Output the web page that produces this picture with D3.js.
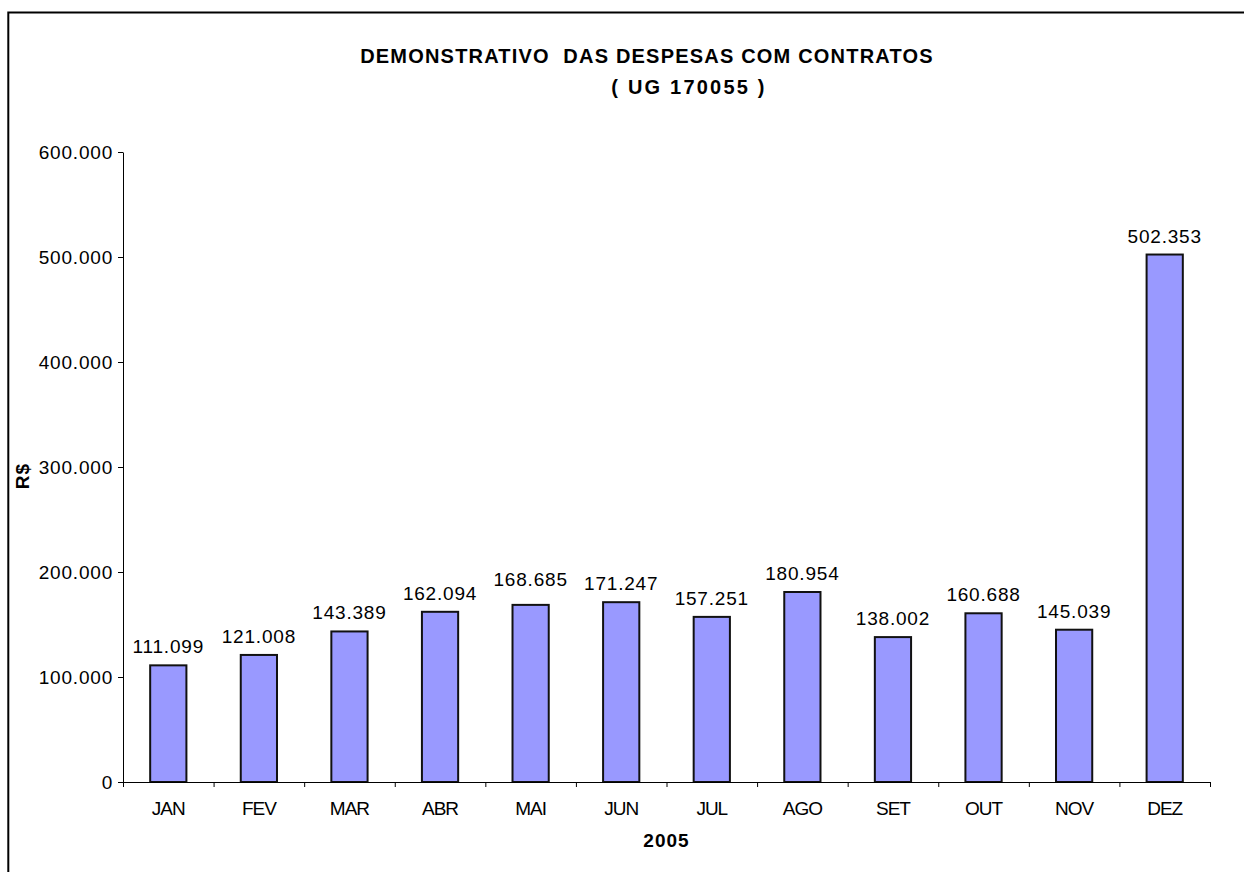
<!DOCTYPE html>
<html lang="pt">
  <head>
    <meta charset="utf-8">
    <title>Demonstrativo das Despesas com Contratos</title>
    <script src="https://cdnjs.cloudflare.com/ajax/libs/d3/7.8.5/d3.min.js"></script>
    <style type="text/css">
      body {
        margin: 0;
        background: #fff;
      }
      .chart text {
        font-family: 'Liberation Sans', Arial, sans-serif;
        fill: #000;
      }
      .tick text, .value {
        font-size: 19px;
        letter-spacing: 0.8px;
      }
      .x.axis .tick text {
        letter-spacing: -1px;
      }
      .title {
        font-size: 20px;
        font-weight: bold;
        letter-spacing: 1.2px;
        white-space: pre;
      }
      .subtitle {
        font-size: 20px;
        font-weight: bold;
        letter-spacing: 2.2px;
        white-space: pre;
      }
      .label {
        font-size: 19px;
        font-weight: bold;
        letter-spacing: 1px;
      }
      .bar {
        fill: #9999ff;
        stroke: #111;
        stroke-width: 2px;
      }
    </style>
  </head>
  <body>
    <svg class="chart" id="chart"></svg>
    <script type="text/javascript">
// chart data
var months = ["JAN", "FEV", "MAR", "ABR", "MAI", "JUN", "JUL", "AGO", "SET", "OUT", "NOV", "DEZ"];
var values = [111099, 121008, 143389, 162094, 168685, 171247, 157251, 180954, 138002, 160688, 145039, 502353];
var yTicks = [0, 100000, 200000, 300000, 400000, 500000, 600000];
var titleText = "DEMONSTRATIVO  DAS DESPESAS COM CONTRATOS";
var subtitleText = "( UG 170055 )";
var xTitle = "2005";
var yTitle = "R$";

var w = 1244;
var h = 872;
// plot area (window.top is taken, so no plain "top")
var plotLeft = 123, plotRight = 1210, plotTop = 152, plotBottom = 782;

var dataset = months.map(function(m, i) { return { month: m, value: values[i] }; });

// brazilian number format, 100.000
var fmt = d3.formatLocale({ decimal: ",", thousands: ".", grouping: [3], currency: ["R$", ""] }).format(",.0f");

var xScale = d3.scaleBand().domain(months).range([plotLeft, plotRight]).paddingInner(0.6).paddingOuter(0.3);
// boundaries between categories, for the tick marks
var xEdges = d3.scaleLinear().domain([0, months.length]).range([plotLeft, plotRight]);
var yScale = d3.scaleLinear().domain([0, d3.max(yTicks)]).range([plotBottom, plotTop]);

var svg = d3.select("#chart")
  .attr("width", w)
  .attr("height", h);

// frame round the chart (runs off the right and bottom edges)
svg.append("rect")
  .attr("x", 8.3)
  .attr("y", 12.5)
  .attr("width", 1300)
  .attr("height", 900)
  .attr("fill", "none")
  .attr("stroke", "#000")
  .attr("stroke-width", 2);

// bars
svg.selectAll(".bar")
  .data(dataset)
  .enter().append("rect")
  .attr("class", "bar")
  .attr("x", function(d) { return xScale(d.month); })
  .attr("y", function(d) { return yScale(d.value); })
  .attr("width", xScale.bandwidth())
  .attr("height", function(d) { return plotBottom - yScale(d.value); });

// value labels, MAI sits a little higher in the original
var lift = { MAI: 7 };
svg.selectAll(".value")
  .data(dataset)
  .enter().append("text")
  .attr("class", "value")
  .attr("text-anchor", "middle")
  .attr("x", function(d) { return xScale(d.month) + xScale.bandwidth() / 2; })
  .attr("y", function(d) { return yScale(d.value) - 12 - (lift[d.month] || 0); })
  .text(function(d) { return fmt(d.value); });

// y axis
var yAxis = d3.axisLeft(yScale)
  .tickValues(yTicks)
  .tickFormat(fmt)
  .tickSize(5)
  .tickSizeOuter(0)
  .tickPadding(5);

svg.append("g")
  .attr("class", "y axis")
  .attr("transform", "translate(" + plotLeft + ",0)")
  .call(yAxis)
  .call(function(g) { g.selectAll("text").attr("font-family", null).attr("font-size", null); });

// x axis: tick marks on the category edges
svg.append("g")
  .attr("class", "x edges")
  .attr("transform", "translate(0," + plotBottom + ")")
  .call(d3.axisBottom(xEdges).ticks(months.length).tickFormat("").tickSize(5).tickSizeOuter(0));

// x axis: month names in the middle of each category
svg.append("g")
  .attr("class", "x axis")
  .attr("transform", "translate(0," + plotBottom + ")")
  .call(d3.axisBottom(xScale).tickSize(0).tickPadding(20))
  .call(function(g) {
    g.select(".domain").remove();
    g.selectAll("text").attr("font-family", null).attr("font-size", null);
  });

svg.selectAll(".axis path, .axis line, .edges path, .edges line")
  .attr("stroke", "#000")
  .attr("stroke-width", 1);

// titles
svg.append("text")
  .attr("class", "title")
  .attr("x", 647)
  .attr("y", 63)
  .attr("text-anchor", "middle")
  .text(titleText);

svg.append("text")
  .attr("class", "subtitle")
  .attr("x", 689)
  .attr("y", 94)
  .attr("text-anchor", "middle")
  .text(subtitleText);

svg.append("text")
  .attr("class", "label")
  .attr("x", (plotLeft + plotRight) / 2)
  .attr("y", 847)
  .attr("text-anchor", "middle")
  .text(xTitle);

svg.append("text")
  .attr("class", "label")
  .attr("text-anchor", "middle")
  .attr("transform", "translate(29," + 476 + ") rotate(-90)")
  .text(yTitle);
    </script>
  </body>
</html>
